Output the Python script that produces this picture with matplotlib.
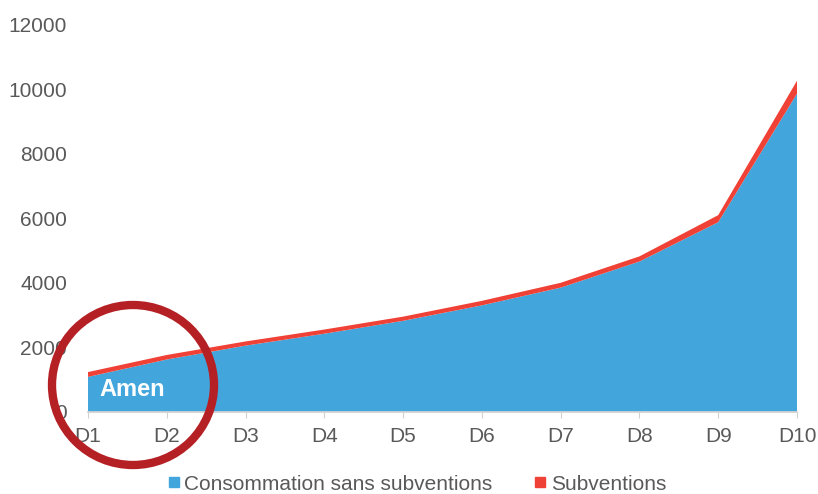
import matplotlib.pyplot as plt
from matplotlib.patches import Ellipse
from matplotlib.lines import Line2D

plt.rcParams['font.family'] = ['Liberation Sans', 'DejaVu Sans']

deciles = ["D1", "D2", "D3", "D4", "D5", "D6", "D7", "D8", "D9", "D10"]
consommation = [1080, 1620, 2050, 2420, 2820, 3300, 3850, 4660, 5880, 9870]
subventions = [150, 140, 130, 130, 130, 140, 150, 160, 220, 400]

blue = "#42a5dc"
red = "#ef4136"
grey = "#595959"

fig = plt.figure(figsize=(8.18, 4.94), dpi=100)
ax = fig.add_axes([88 / 818, 1 - 411.7 / 494, (797 - 88) / 818, (411.7 - 25) / 494])

x = list(range(len(deciles)))
ax.stackplot(x, consommation, subventions, colors=[blue, red], linewidth=0)

ax.set_xlim(0, len(deciles) - 1)
ax.set_ylim(0, 12000)
ax.set_yticks(range(0, 12001, 2000))
ax.set_xticks(x)
ax.set_xticklabels(deciles)

for s in ["left", "right", "top"]:
    ax.spines[s].set_visible(False)
ax.spines["bottom"].set_color("#d0d0d0")
ax.spines["bottom"].set_linewidth(1.2)
ax.tick_params(axis="y", length=0, pad=15, labelsize=15, labelcolor=grey)
ax.tick_params(axis="x", length=4, color="#d0d0d0", pad=7, labelsize=15, labelcolor=grey)

ax.text(0.15, 680, "Amen", color="white", fontsize=17, fontweight="bold", va="center", ha="left")

# red circle drawn over the axes corner
circle = Ellipse((133 / 818, 1 - 385 / 494), 162 / 818, 160 / 494,
                 transform=fig.transFigure, fill=False, edgecolor="#b52025", linewidth=6)
fig.add_artist(circle)

handles = [
    Line2D([], [], marker="s", linestyle="none", markersize=7, color=blue),
    Line2D([], [], marker="s", linestyle="none", markersize=7, color=red),
]
fig.legend(handles, ["Consommation sans subventions", "Subventions"],
           loc="center", bbox_to_anchor=(0.507, 0.02), ncol=2, frameon=False,
           fontsize=15, labelcolor=grey, handletextpad=0.0, columnspacing=1.8,
           handlelength=1.0)

fig.savefig("out.png", dpi=100)
